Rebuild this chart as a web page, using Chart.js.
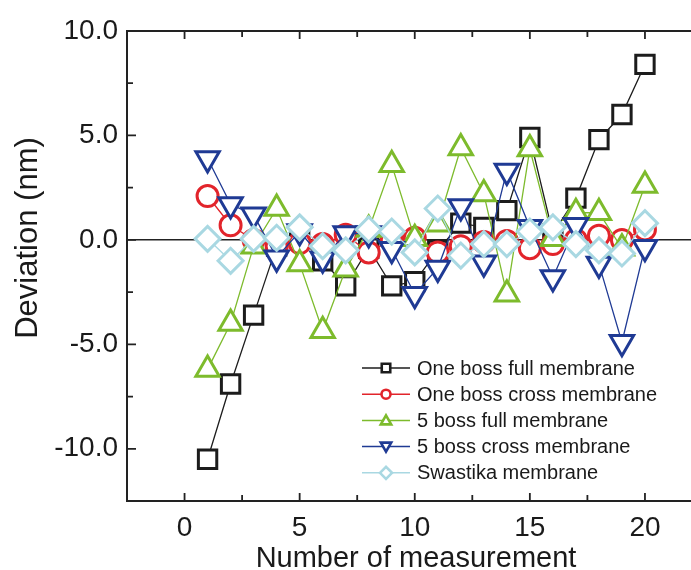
<!DOCTYPE html>
<html>
<head>
<meta charset="utf-8">
<script src="https://cdn.jsdelivr.net/npm/chart.js@4"></script>
<style>
  html, body { margin: 0; padding: 0; background: #fff; }
  #wrap { width: 691px; height: 570px; }
</style>
</head>
<body>
<div id="wrap"><canvas id="myChart" width="691" height="570"></canvas></div>
<script>
var measurement = [1, 2, 3, 4, 5, 6, 7, 8, 9, 10, 11, 12, 13, 14, 15, 16, 17, 18, 19, 20]

var oneBossFull = [-10.5, -6.9, -3.6, -0.3, 0.1, -1.0, -2.2, -0.4, -2.2, -2.0, -0.5, 0.8, 0.6, 1.4, 4.9, 0.3, 2.0, 4.8, 6.0, 8.4]
var oneBossCross = [2.1, 0.7, 0.0, -0.3, -0.15, -0.2, 0.25, -0.6, 0.0, 0.1, -0.6, -0.3, -0.1, -0.05, -0.4, -0.2, 0.0, 0.2, 0.0, 0.5]
var fiveBossFull = [-6.2, -4.0, -0.3, 1.5, -1.15, -4.35, -1.4, 0.5, 3.6, 0.05, 0.75, 4.4, 2.2, -2.6, 4.35, 0.05, 1.3, 1.3, -0.4, 2.6]
var fiveBossCross = [3.9, 1.7, 1.2, -0.85, 0.4, -0.9, 0.3, 0.3, -0.45, -2.6, -1.35, 1.6, -1.1, 3.3, 0.6, -1.8, 0.7, -1.15, -4.9, -0.35]
var swastika = [0.05, -1.0, 0.05, 0.1, 0.6, -0.3, -0.5, 0.5, 0.4, -0.6, 1.5, -0.75, -0.2, -0.2, 0.4, 0.6, -0.2, -0.5, -0.65, 0.8]

var seriesNames = ['One boss full membrane', 'One boss cross membrane', '5 boss full membrane', '5 boss cross membrane', 'Swastika membrane']

var xMajorTicks = [0, 5, 10, 15, 20]
var xMinorTicks = [2.5, 7.5, 12.5, 17.5]
var yMajorTicks = [-10, -5, 0, 5, 10]
var yMinorTicks = [-7.5, -2.5, 2.5, 7.5]

var FONT = '"Liberation Sans", Arial, Helvetica, sans-serif'

function toPoints(values) {
  return measurement.map((m, i) => ({ x: m, y: values[i] }))
}

const styles = [
  { color: '#1c1c1c', pointStyle: 'rect', radius: 13, rotation: 0, legendRadius: 6 },
  { color: '#e2242b', pointStyle: 'circle', radius: 10.5, rotation: 0, legendRadius: 4.5 },
  { color: '#7dbb2c', pointStyle: 'triangle', radius: 13.5, rotation: 0, legendRadius: 6 },
  { color: '#1f3a94', pointStyle: 'triangle', radius: 13.5, rotation: 180, legendRadius: 6 },
  { color: '#a9d8e2', pointStyle: 'rectRot', radius: 12.5, rotation: 0, legendRadius: 6 },
]

const allValues = [oneBossFull, oneBossCross, fiveBossFull, fiveBossCross, swastika]

const datasets = allValues.map((values, i) => {
  const s = styles[i]
  return {
    label: seriesNames[i],
    data: toPoints(values),
    borderColor: s.color,
    borderWidth: 1.3,
    backgroundColor: '#ffffff',
    pointStyle: s.pointStyle,
    pointRotation: s.rotation,
    pointRadius: s.radius,
    pointHoverRadius: s.radius,
    pointBorderColor: s.color,
    pointBackgroundColor: '#ffffff',
    pointBorderWidth: 3,
    tension: 0,
    fill: false,
    clip: false,
    order: 5 - i,
  }
})

// inward tick marks, top frame line, axis titles and the legend box
const frame = {
  id: 'frame',
  afterDraw(chart) {
    const ctx = chart.ctx
    const area = chart.chartArea
    const x = chart.scales.x
    const y = chart.scales.y
    ctx.save()
    ctx.strokeStyle = '#222'
    ctx.lineWidth = 2
    ctx.beginPath()
    ctx.moveTo(area.left - 1, area.top)
    ctx.lineTo(area.right, area.top)
    ctx.stroke()

    const tick = (vals, len) => {
      vals.forEach(v => {
        const px = x.getPixelForValue(v)
        ctx.moveTo(px, area.bottom)
        ctx.lineTo(px, area.bottom - len)
        ctx.moveTo(px, area.top)
        ctx.lineTo(px, area.top + len)
      })
    }
    const ytick = (vals, len) => {
      vals.forEach(v => {
        const py = y.getPixelForValue(v)
        ctx.moveTo(area.left, py)
        ctx.lineTo(area.left + len, py)
      })
    }
    ctx.lineWidth = 1.8
    ctx.beginPath()
    tick(xMajorTicks, 8)
    tick(xMinorTicks, 6)
    ytick(yMajorTicks, 9)
    ytick(yMinorTicks, 6)
    ctx.stroke()

    ctx.fillStyle = '#1a1a1a'
    ctx.font = '29px ' + FONT
    ctx.textAlign = 'center'
    ctx.textBaseline = 'alphabetic'
    ctx.fillText('Number of measurement', 416, 567)

    ctx.save()
    ctx.translate(37, 238)
    ctx.rotate(-Math.PI / 2)
    ctx.font = '31px ' + FONT
    ctx.fillText('Deviation (nm)', 0, 0)
    ctx.restore()

    // legend
    ctx.font = '20px ' + FONT
    ctx.textAlign = 'left'
    ctx.textBaseline = 'middle'
    chart.data.datasets.forEach((ds, i) => {
      const s = styles[i]
      const ly = 368 + i * 26.2
      ctx.strokeStyle = s.color
      ctx.lineWidth = 1.5
      ctx.beginPath()
      ctx.moveTo(362, ly)
      ctx.lineTo(410, ly)
      ctx.stroke()
      ctx.fillStyle = '#ffffff'
      ctx.lineWidth = 2.6
      Chart.helpers.drawPoint(ctx, {
        pointStyle: s.pointStyle,
        rotation: s.rotation,
        radius: s.legendRadius,
        borderWidth: 2.6,
      }, 386, ly + (s.pointStyle === 'triangle' ? (s.rotation ? -1 : 1) : 0))
      ctx.fillStyle = '#1a1a1a'
      ctx.fillText(ds.label, 417, ly + 1)
    })
    ctx.restore()
  },
}

const ctx = document.getElementById('myChart').getContext('2d')
const myChart = new Chart(ctx, {
  type: 'line',
  data: { datasets: datasets },
  options: {
    responsive: false,
    animation: false,
    layout: { autoPadding: false, padding: { top: 31, right: 0, left: 0, bottom: 0 } },
    plugins: {
      legend: { display: false },
      tooltip: { enabled: false },
    },
    scales: {
      x: {
        type: 'linear',
        min: -2.5,
        max: 22,
        afterBuildTicks: scale => {
          scale.ticks = xMajorTicks.map(v => ({ value: v }))
        },
        afterFit: scale => {
          scale.height = 69
          scale.paddingRight = 0
          scale.paddingLeft = 0
        },
        grid: { display: false, drawTicks: false },
        border: { color: '#222', width: 2 },
        ticks: {
          padding: 10,
          color: '#1a1a1a',
          font: { family: FONT, size: 28 },
          maxRotation: 0,
        },
      },
      y: {
        type: 'linear',
        min: -12.5,
        max: 10,
        afterBuildTicks: scale => {
          scale.ticks = yMajorTicks.map(v => ({ value: v }))
        },
        afterFit: scale => {
          scale.width = 127
          scale.paddingTop = 0
          scale.paddingBottom = 0
        },
        grid: {
          drawTicks: false,
          lineWidth: 1.5,
          color: c => (c.tick && c.tick.value === 0 ? '#222' : 'rgba(0,0,0,0)'),
        },
        border: { color: '#222', width: 2 },
        ticks: {
          padding: 9,
          color: '#1a1a1a',
          font: { family: FONT, size: 28 },
          callback: v => v.toFixed(1),
        },
      },
    },
  },
  plugins: [frame],
})
</script>
</body>
</html>
